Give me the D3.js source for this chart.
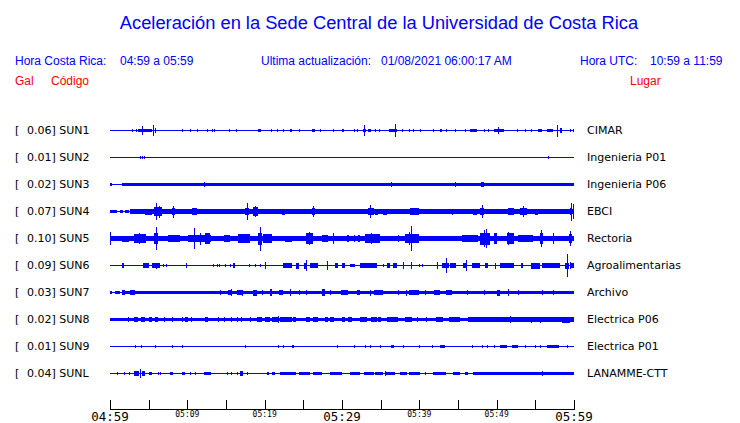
<!DOCTYPE html>
<html><head><meta charset="utf-8">
<script src="https://cdn.jsdelivr.net/npm/d3@7/dist/d3.min.js"></script>
<style>body{margin:0;background:#fff}svg{display:block}</style>
</head><body><svg id="c" width="740" height="423"></svg>
<script>
// ---- data ----
const title = "Aceleración en la Sede Central de la Universidad de Costa Rica";
const codes = ["SUN1","SUN2","SUN3","SUN4","SUN5","SUN6","SUN7","SUN8","SUN9","SUNL"];
const gals = ["0.06","0.01","0.02","0.07","0.10","0.09","0.03","0.02","0.01","0.04"];
const places = ["CIMAR","Ingenieria P01","Ingenieria P06","EBCI","Rectoria","Agroalimentarias","Archivo","Electrica P06","Electrica P01","LANAMME-CTT"];
const tickMinutes = [0,5,10,15,20,25,30,35,40,45,50,55,60];
const majorLabels = [[0,"04:59"],[30,"05:29"],[60,"05:59"]];
const minorLabels = [[10,"05:09"],[20,"05:19"],[40,"05:39"],[50,"05:49"]];

// background noise level per station: [startMin, endMin, relative amplitude]
const sun1Noise = [];
const sun2Noise = [];
const sun3Noise = [[0,0.2,.12],[0.6,1.3,.08],[1.5,48.2,.12],[48.2,60,.15]];
const sun4Noise = [[0,0.9,.12],[1.3,1.7,.12],[2.6,60,.18]];
const sun5Noise = [[0,60,.22]];
const sun6Noise = [];
const sun7Noise = [[0,0.3,.12],[0.6,1.3,.1],[1.5,60,.125]];
const sun8Noise = [[0,60,.13]];
const sun9Noise = [];
const sunlNoise = [[47,60,.13]];

// bursts / spikes: [startMin, endMin, relative amplitude]
const sun1Ev = [[2.9,2.9,.12],[3.3,3.3,.1],[3.66,4.0,.1],[4.0,5.0,.14],[5.0,5.39,.1],[4.18,4.18,.36],[5.6,5.6,.46],[5.8,6.0,.17],
 [9.35,9.35,.12],[10.4,10.4,.12],[11.2,11.2,.15],[12.5,12.5,.1],[13.2,13.2,.12],[13.5,13.5,.12],
 [15.4,15.4,.1],[16.3,16.3,.15],[19.1,19.5,.15],[20.8,20.8,.12],[21.6,21.6,.1],[22.4,22.4,.12],
 [23.3,23.5,.15],[24.5,24.5,.12],[26.1,26.5,.15],[27.2,27.2,.1],[28.9,28.9,.12],[30.0,30.2,.15],
 [31.5,31.5,.1],[31.9,31.9,.1],[32.7,33.1,.15],[32.9,32.9,.42],[33.4,33.8,.13],[34.3,34.3,.1],
 [34.8,34.8,.1],[36.1,37.1,.14],[36.8,36.8,.58],[37.7,37.7,.1],[38.6,38.6,.1],[39.2,39.2,.1],
 [40.1,40.1,.12],[41.8,41.8,.1],[42.7,42.9,.12],[43.5,43.5,.1],[44.6,44.6,.15],[45.9,45.9,.1],
 [46.6,47.4,.14],[48.3,48.3,.1],[48.9,48.9,.1],[49.6,50.9,.14],[50.2,50.2,.33],[52.6,52.6,.1],
 [53.6,53.6,.1],[54.5,54.5,.1],[55.4,55.8,.12],[56.5,57.3,.14],[57.8,57.8,.5],[58.2,58.5,.17],
 [59.5,59.5,.1],[59.9,59.9,.1]];
const sun2Ev = [[3.9,3.9,.12],[4.15,4.15,.12],[4.4,4.4,.12],[7.76,7.76,.08],[56.6,56.6,.12]];
const sun3Ev = [[12.2,12.2,.21],[36.4,36.4,.17],[44.6,44.6,.17],[48.0,48.4,.21]];
const sun4Ev = [[2.0,2.4,.12],[4.5,5.4,.25],[5.7,6.7,.4],[6.0,6.0,.67],[6.3,6.3,.5],[8.0,8.4,.29],[8.2,8.2,.5],
 [10.6,11.2,.33],[13.1,13.1,.23],[17.5,18.0,.33],[17.7,17.7,.67],[18.5,19.2,.37],[18.8,18.8,.46],
 [22.2,22.6,.25],[26.1,26.5,.33],[26.3,26.3,.46],[31.0,31.5,.21],[33.4,34.1,.33],[33.6,33.6,.54],
 [34.3,34.7,.25],[35.3,35.8,.25],[37.7,37.7,.21],[38.8,39.9,.29],[41.2,41.2,.21],[41.8,41.8,.21],
 [42.5,42.5,.21],[44.2,44.2,.25],[47.0,47.4,.25],[47.8,48.4,.33],[48.1,48.1,.54],[51.5,52.2,.29],
 [53.0,53.9,.33],[53.4,53.4,.46],[55.0,55.4,.25],[56.5,56.5,.21],[58.0,58.0,.21],[59.5,59.7,.33],
 [59.6,59.6,.75],[59.9,59.9,.6]];
const sun5Ev = [[0,0,.58],[1.5,2.4,.25],[3.1,4.7,.37],[3.7,3.7,.46],[5.7,6.25,.42],[5.9,5.9,.92],
 [7.5,9.1,.33],[10.1,13.1,.33],[10.9,10.9,.87],[11.6,11.6,.5],[12.3,12.9,.42],[14.7,15.5,.29],
 [16.6,18.1,.37],[19.2,19.6,.5],[19.4,19.4,1.0],[19.8,20.9,.37],[22.6,23.5,.25],[25.4,26.3,.42],
 [25.7,25.7,.56],[27.4,28.2,.29],[28.9,28.9,.42],[30.6,30.9,.29],[31.5,31.7,.29],[32.1,32.3,.29],
 [33.0,34.9,.37],[33.8,33.8,.46],[37.3,37.3,.33],[38.1,39.9,.37],[38.6,38.6,.58],[38.9,38.9,1.04],
 [45.5,47.6,.29],[47.8,49.1,.5],[48.3,48.3,.67],[48.6,48.6,.83],[49.6,50.0,.42],[51.3,52.2,.42],
 [51.5,51.5,.54],[52.8,54.7,.33],[55.6,56.0,.42],[55.7,55.7,.67],[57.3,57.3,.42],[59.4,59.7,.37],
 [59.5,59.5,.62]];
const sun6Ev = [[1.6,1.8,.21],[4.3,5.0,.17],[5.4,6.5,.17],[6.0,6.0,.25],[6.9,6.9,.12],[7.2,7.2,.12],
 [9.8,10.0,.17],[13.3,13.3,.12],[13.8,13.8,.12],[14.1,14.1,.12],[14.9,14.9,.12],[15.5,15.5,.12],
 [15.9,16.2,.21],[18.0,18.0,.12],[18.75,18.75,.12],[19.4,19.4,.12],[20.0,20.0,.31],[22.4,23.5,.17],
 [24.1,24.4,.25],[25.1,25.5,.25],[25.3,25.3,.42],[25.9,26.9,.17],[28.0,28.2,.25],[28.1,28.1,.37],
 [29.1,29.5,.17],[30.0,30.4,.17],[31.0,31.7,.12],[32.3,34.5,.17],[35.3,35.3,.12],[35.8,36.2,.17],
 [36.6,37.1,.21],[37.9,37.9,.33],[38.9,38.9,.33],[39.9,39.9,.12],[40.3,40.3,.12],[42.3,42.3,.33],
 [42.9,43.8,.21],[43.4,43.4,.62],[44.0,44.8,.17],[45.7,46.1,.21],[46.0,46.0,.42],[46.8,47.8,.17],
 [48.5,48.9,.17],[49.8,49.8,.25],[50.4,52.2,.21],[53.2,53.4,.17],[54.5,55.6,.25],[55.8,58.2,.17],
 [58.8,59.3,.25],[59.05,59.05,.92],[59.5,59.5,.33],[59.6,60,.17]];
const sun7Ev = [[1.5,1.9,.17],[2.6,3.2,.17],[14.2,14.2,.17],[15.3,15.7,.21],[15.6,15.6,.31],
 [16.4,17.2,.21],[17.1,17.1,.25],[18.5,19.0,.25],[19.6,19.6,.17],[20.7,20.9,.29],[21.8,22.4,.21],
 [23.3,23.3,.29],[24.4,24.4,.21],[25.4,25.4,.21],[27.4,27.8,.29],[28.4,28.4,.21],[29.9,30.8,.21],
 [31.9,32.3,.21],[33.6,33.6,.25],[34.1,35.3,.21],[37.3,37.3,.21],[38.3,38.3,.25],[38.6,39.9,.21],
 [40.7,40.7,.17],[41.9,42.7,.21],[43.5,44.2,.17],[46.1,46.1,.21],[48.3,48.3,.21],[50.0,50.4,.25],
 [51.5,51.5,.29],[52.8,52.8,.21],[55.8,55.8,.17],[57.3,57.3,.17]];
const sun8Ev = [[2.3,2.3,.22],[3.1,3.6,.22],[4.0,4.5,.22],[5.0,5.4,.22],[5.8,6.2,.22],[7.0,7.0,.22],
 [8.0,8.0,.22],[9.3,9.3,.22],[9.7,10.1,.22],[10.5,10.5,.22],[12.3,12.7,.22],[14.0,14.0,.22],
 [14.7,14.7,.22],[15.7,15.7,.22],[16.4,16.4,.22],[17.0,17.0,.22],[18.1,18.1,.22],[19.0,19.6,.22],
 [20.0,20.7,.22],[20.9,21.8,.22],[21.7,21.7,.29],[22.0,23.5,.22],[23.7,24.1,.22],[25.4,25.9,.22],
 [26.3,26.9,.22],[27.8,28.2,.22],[28.4,29.0,.22],[29.96,30.4,.22],[30.8,31.25,.22],[32.3,33.2,.22],
 [33.8,34.5,.22],[34.7,35.1,.22],[35.8,37.3,.22],[38.1,39.0,.22],[39.7,39.7,.22],[40.9,40.9,.22],
 [42.2,43.1,.22],[43.8,45.3,.22],[46.3,60,.2],[51.7,51.7,.29],[54.5,54.5,.25],[55.6,55.6,.25],
 [58.4,59.5,.25]];
const sun9Ev = [[3.2,3.2,.1],[3.9,4.4,.08],[4.0,4.0,.12],[5.8,5.8,.1],[8.0,8.0,.1],[9.3,9.3,.1],
 [17.4,17.4,.1],[21.7,21.7,.1],[22.4,22.4,.1],[23.5,23.8,.1],[29.3,29.3,.1],[31.5,31.5,.1],
 [33.0,33.0,.1],[33.6,33.6,.1],[34.9,34.9,.1],[36.4,36.7,.1],[37.9,37.9,.1],[39.9,39.9,.1],
 [41.7,41.7,.1],[42.7,43.3,.1],[46.8,46.8,.1],[48.1,48.1,.1],[48.7,48.7,.1],[49.6,49.6,.1],
 [50.4,51.3,.1],[52.0,52.8,.1],[53.7,53.7,.1],[55.0,55.0,.1],[55.6,55.6,.1],[56.5,58.0,.1],
 [59.05,59.05,.1]];
const sunlEv = [[0.86,0.86,.12],[1.85,1.85,.12],[2.4,2.6,.12],[3.1,3.7,.17],[3.9,4.05,.39],
 [4.1,4.5,.17],[5.0,5.4,.12],[6.2,6.2,.12],[6.5,6.5,.12],[7.8,8.2,.12],[9.3,9.7,.12],[10.3,10.3,.12],
 [11.0,11.0,.12],[12.1,13.1,.12],[15.1,15.1,.12],[15.7,15.7,.12],[16.4,16.4,.15],[16.8,17.2,.17],
 [17.7,17.7,.12],[20.3,20.5,.12],[20.9,21.3,.12],[22.0,24.1,.12],[24.4,25.9,.12],[26.3,27.4,.12],
 [28.4,29.7,.12],[29.7,30.0,.12],[31.0,32.3,.12],[32.8,34.1,.12],[34.3,35.3,.12],[35.6,35.6,.21],
 [35.6,36.9,.12],[37.5,38.4,.12],[38.6,40.1,.12],[40.7,40.7,.12],[41.8,43.5,.12],[44.4,45.3,.12],
 [45.9,46.3,.12],[55.8,55.8,.17]];

const noises = [sun1Noise,sun2Noise,sun3Noise,sun4Noise,sun5Noise,sun6Noise,sun7Noise,sun8Noise,sun9Noise,sunlNoise];
const events = [sun1Ev,sun2Ev,sun3Ev,sun4Ev,sun5Ev,sun6Ev,sun7Ev,sun8Ev,sun9Ev,sunlEv];

// ---- drawing ----
const svg = d3.select("#c");
const BLUE = "#0000ff", RED = "#ff0000";
const x = d3.scaleLinear().domain([0,60]).range([110,574]);
const y = d3.scalePoint().domain(codes).range([130,373]);
const amp = d3.scaleLinear().domain([0,1]).range([0,12]);

const sans = "'Liberation Sans', Arial, Helvetica, sans-serif";
const dv = "'DejaVu Sans', Verdana, sans-serif";

svg.append("text").attr("x",379).attr("y",29).attr("text-anchor","middle")
  .attr("font-family",sans).attr("font-size",18.3).attr("fill",BLUE).text(title);

const hdr = [[15,"Hora Costa Rica:"],[120,"04:59 a 05:59"],[261,"Ultima actualización:"],[381,"01/08/2021 06:00:17 AM"],[580,"Hora UTC:"],[650,"10:59 a 11:59"]];
svg.selectAll("text.h").data(hdr).join("text").attr("class","h")
  .attr("x",d=>d[0]).attr("y",65).attr("font-family",sans).attr("font-size",12)
  .attr("fill",BLUE).text(d=>d[1]);
const hdr2 = [[15,"Gal"],[51,"Código"],[630,"Lugar"]];
svg.selectAll("text.h2").data(hdr2).join("text").attr("class","h2")
  .attr("x",d=>d[0]).attr("y",85).attr("font-family",sans).attr("font-size",12)
  .attr("fill",RED).text(d=>d[1]);

codes.forEach((c,i)=>{
  const cy = y(c);
  const g = svg.append("g").attr("shape-rendering","crispEdges").attr("fill",BLUE);
  g.append("text").attr("x",15).attr("y",cy+4).attr("font-family",dv).attr("font-size",11)
    .attr("fill","#000").text("[");
  g.append("text").attr("x",27).attr("y",cy+4).attr("font-family",dv).attr("font-size",11)
    .attr("fill","#000").text(gals[i]+"] "+c);
  g.append("text").attr("x",587).attr("y",cy+4).attr("font-family",dv).attr("font-size",11)
    .attr("fill","#000").text(places[i]);
  // baseline trace
  g.append("rect").attr("x",x(0)).attr("y",cy).attr("width",x(60)-x(0)).attr("height",1);
  const segs = noises[i].concat(events[i]);
  g.selectAll("rect.s").data(segs).join("rect").attr("class","s")
    .attr("x",d=>x(d[0]))
    .attr("width",d=>Math.max(1,x(d[1])-x(d[0])))
    .attr("y",d=>cy+0.5-amp(d[2]))
    .attr("height",d=>Math.max(1,2*amp(d[2])));
});

// time axis
const axisY = 409;
svg.append("line").attr("x1",x(0)).attr("x2",x(60)+1).attr("y1",axisY+0.5).attr("y2",axisY+0.5)
  .attr("stroke","#000").attr("stroke-width",1);
svg.selectAll("line.t").data(tickMinutes).join("line").attr("class","t")
  .attr("x1",d=>Math.round(x(d))+0.5).attr("x2",d=>Math.round(x(d))+0.5)
  .attr("y1",axisY-9).attr("y2",axisY+0.5).attr("stroke","#000").attr("stroke-width",1);
svg.selectAll("text.mj").data(majorLabels).join("text").attr("class","mj")
  .attr("x",d=>x(d[0])).attr("y",421).attr("text-anchor","middle")
  .attr("font-family","'DejaVu Sans Mono', monospace").attr("font-size",12.5).attr("fill","#000").text(d=>d[1]);
svg.selectAll("text.mn").data(minorLabels).join("text").attr("class","mn")
  .attr("x",d=>x(d[0])).attr("y",417).attr("text-anchor","middle")
  .attr("font-family","'DejaVu Sans Mono', monospace").attr("font-size",8).attr("fill","#000").text(d=>d[1]);
</script></body></html>
